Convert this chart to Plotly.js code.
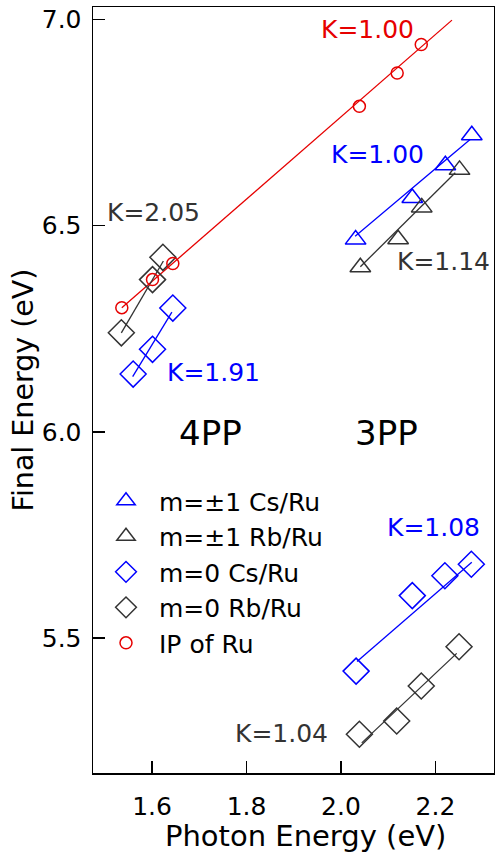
<!DOCTYPE html>
<html>
<head>
<meta charset="utf-8">
<script src="https://cdn.plot.ly/plotly-3.0.1.min.js"></script>
<style>html,body{margin:0;padding:0;background:#fff;}#chart{width:495px;height:855px;}</style>
</head>
<body>
<div id="chart"></div>
<script>
// ---- data ----
var seriesNames = ["m=\u00b11 Cs/Ru", "m=\u00b11 Rb/Ru", "m=0 Cs/Ru", "m=0 Rb/Ru", "IP of Ru"];

var csTriX = [2.031, 2.151, 2.221, 2.277];
var csTriY = [6.466, 6.567, 6.646, 6.719];
var rbTriX = [2.041, 2.121, 2.171, 2.251];
var rbTriY = [6.399, 6.467, 6.544, 6.635];
var csDiaX = [1.560, 1.601, 1.644, 2.032, 2.151, 2.220, 2.276];
var csDiaY = [6.140, 6.200, 6.300, 5.420, 5.603, 5.651, 5.679];
var rbDiaX = [1.535, 1.601, 1.623, 2.039, 2.118, 2.170, 2.250];
var rbDiaY = [6.240, 6.369, 6.423, 5.267, 5.299, 5.384, 5.479];
var ipRuX = [1.536, 1.601, 1.644, 2.039, 2.119, 2.170];
var ipRuY = [6.301, 6.369, 6.408, 6.789, 6.870, 6.939];

// fitted lines (end points)
var fitRuX = [1.536, 2.235];     var fitRuY = [6.301, 6.998];
var fitCsTriX = [2.030, 2.274];  var fitCsTriY = [6.474, 6.709];
var fitRbTriX = [2.041, 2.242];  var fitRbTriY = [6.400, 6.628];
var fitCs4X = [1.559, 1.642];    var fitCs4Y = [6.134, 6.290];
var fitRb4X = [1.535, 1.624];    var fitRb4Y = [6.240, 6.414];
var fitCs3X = [2.034, 2.277];    var fitCs3Y = [5.443, 5.684];
var fitRb3X = [2.044, 2.245];    var fitRb3Y = [5.246, 5.463];

var xTicks = [1.6, 1.8, 2.0, 2.2];
var xTickText = ["1.6", "1.8", "2.0", "2.2"];
var yTicks = [5.5, 6.0, 6.5, 7.0];
var yTickText = ["5.5", "6.0", "6.5", "7.0"];

var labelText = ["K=1.00", "K=1.00", "K=2.05", "K=1.14", "K=1.91", "4PP", "3PP", "K=1.08", "K=1.04"];
var xTitle = "Photon Energy (eV)";
var yTitle = "Final Energy (eV)";

// ---- styling ----
var BLUE = "#0000ff", GRAY = "#333333", RED = "#e60000";
var FONT = "DejaVu Sans";

function fit(x, y, c) {
  return {x: x, y: y, mode: "lines", type: "scatter", showlegend: false, hoverinfo: "skip",
          line: {color: c, width: 1.3}};
}
function pts(x, y, name, sym, size, c) {
  return {x: x, y: y, name: name, mode: "markers", type: "scatter",
          marker: {symbol: sym, size: size, color: c, line: {color: c, width: 1.5}}};
}

var traces = [
  fit(fitRuX, fitRuY, RED),
  fit(fitCsTriX, fitCsTriY, BLUE),
  fit(fitRbTriX, fitRbTriY, GRAY),
  fit(fitCs4X, fitCs4Y, BLUE),
  fit(fitRb4X, fitRb4Y, GRAY),
  fit(fitCs3X, fitCs3Y, BLUE),
  fit(fitRb3X, fitRb3Y, GRAY),
  pts(csTriX, csTriY, seriesNames[0], "triangle-up-open", 18, BLUE),
  pts(rbTriX, rbTriY, seriesNames[1], "triangle-up-open", 18, GRAY),
  pts(csDiaX, csDiaY, seriesNames[2], "diamond-open", 20, BLUE),
  pts(rbDiaX, rbDiaY, seriesNames[3], "diamond-open", 20, GRAY),
  pts(ipRuX, ipRuY, seriesNames[4], "circle-open", 12, RED)
];

function ann(i, x, y, color, size) {
  return {text: labelText[i], x: x, y: y, xref: "x", yref: "y", showarrow: false,
          xanchor: "center", yanchor: "middle",
          font: {family: FONT, size: size || 25, color: color}};
}

var layout = {
  width: 495, height: 855,
  margin: {l: 93, r: 1, t: 7, b: 82},
  paper_bgcolor: "#fff", plot_bgcolor: "#fff",
  font: {family: FONT, size: 25, color: "#000"},
  showlegend: true,
  legend: {x: 0, xanchor: "left", y: 0.385, yanchor: "top", bgcolor: "rgba(0,0,0,0)",
           borderwidth: 0, itemwidth: 56, tracegroupgap: 0,
           font: {family: FONT, size: 25, color: "#000"}},
  xaxis: {
    range: [1.475, 2.324], tickvals: xTicks, ticktext: xTickText,
    ticks: "inside", ticklen: 12, tickwidth: 1.5, tickcolor: "#000",
    showline: true, mirror: true, linecolor: "#000", linewidth: 1.5,
    showgrid: false, zeroline: false, ticklabelstandoff: 10,
    tickfont: {family: FONT, size: 25, color: "#000"}
  },
  yaxis: {
    range: [5.173, 7.0298], tickvals: yTicks, ticktext: yTickText,
    ticks: "inside", ticklen: 12, tickwidth: 1.5, tickcolor: "#000",
    showline: true, mirror: true, linecolor: "#000", linewidth: 1.5,
    showgrid: false, zeroline: false, ticklabelstandoff: 5,
    tickfont: {family: FONT, size: 25, color: "#000"},
    title: {text: yTitle, font: {family: FONT, size: 28.5, color: "#000"}, standoff: 0}
  },
  annotations: [
    ann(0, 2.0566, 6.975, RED),
    ann(1, 2.0767, 6.672, BLUE),
    ann(2, 1.6028, 6.531, GRAY),
    ann(3, 2.2165, 6.412, GRAY),
    ann(4, 1.730, 6.143, BLUE),
    ann(5, 1.724, 5.998, "#000", 34),
    ann(6, 2.097, 5.998, "#000", 34),
    ann(7, 2.195, 5.767, BLUE),
    ann(8, 1.875, 5.269, GRAY),
    {text: xTitle, x: 0.5287, y: -0.0822, xref: "paper", yref: "paper", showarrow: false,
     xanchor: "center", yanchor: "middle", font: {family: FONT, size: 29, color: "#000"}}
  ]
};

Plotly.newPlot("chart", traces, layout, {displayModeBar: false, staticPlot: true});
</script>
</body>
</html>
